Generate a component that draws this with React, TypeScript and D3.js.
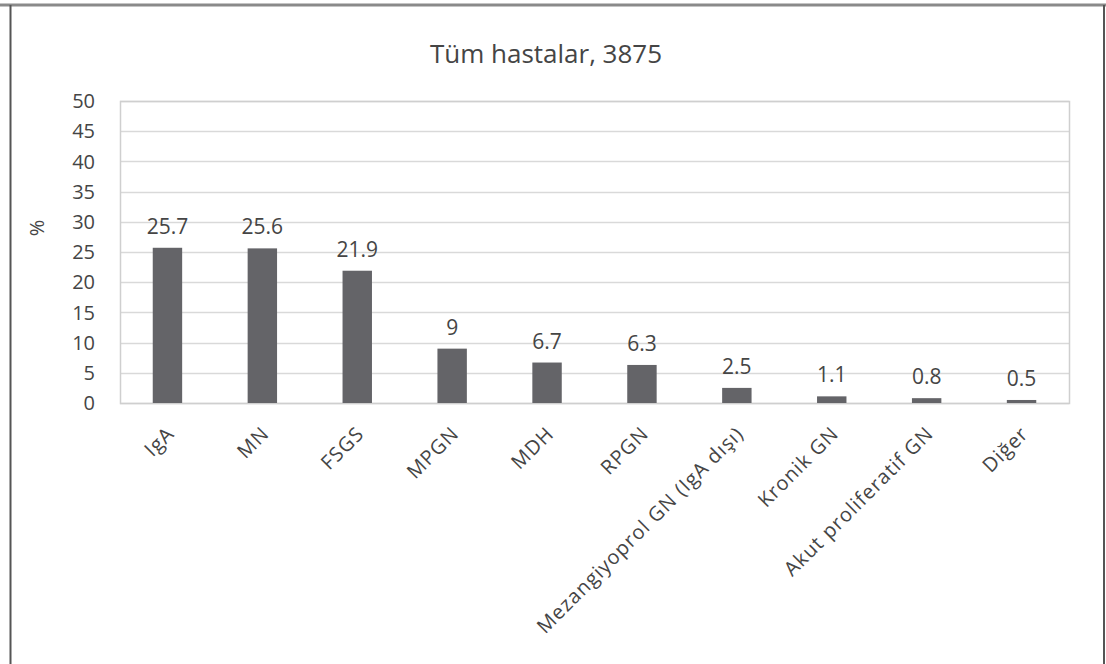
import React, { useEffect, useRef } from "react";
import * as d3 from "d3";

// Glomerular disease distribution, all patients
const categories: string[] = [
  "IgA",
  "MN",
  "FSGS",
  "MPGN",
  "MDH",
  "RPGN",
  "Mezangiyoprol GN (IgA dışı)",
  "Kronik GN",
  "Akut proliferatif GN",
  "Diğer",
];
const percentages: number[] = [25.7, 25.6, 21.9, 9, 6.7, 6.3, 2.5, 1.1, 0.8, 0.5];
const yTicks: number[] = [0, 5, 10, 15, 20, 25, 30, 35, 40, 45, 50];
const chartTitle = "Tüm hastalar, 3875";
const yAxisLabel = "%";

const W = 1106;
const H = 664;
const FONT = "'Open Sans', 'DejaVu Sans', sans-serif";
const TEXT = "#454545";

export default function App() {
  const ref = useRef<SVGSVGElement | null>(null);

  useEffect(() => {
    const svg = d3.select(ref.current);
    svg.selectAll("*").remove();

    const plot = { left: 120, right: 1069, top: 101, bottom: 403 };

    const x = d3
      .scaleBand<string>()
      .domain(categories)
      .range([plot.left, plot.right])
      .paddingInner(0.69)
      .paddingOuter(0.345);
    const y = d3.scaleLinear().domain([0, 50]).range([plot.bottom, plot.top]);

    svg.append("rect").attr("width", W).attr("height", H).attr("fill", "#fff");

    // outer frame
    svg
      .append("line")
      .attr("x1", 0)
      .attr("x2", W)
      .attr("y1", 5)
      .attr("y2", 5)
      .attr("stroke", "#8a8a8a")
      .attr("stroke-width", 3);
    svg
      .append("line")
      .attr("x1", 10.5)
      .attr("x2", 10.5)
      .attr("y1", 5)
      .attr("y2", H)
      .attr("stroke", "#555")
      .attr("stroke-width", 2);
    svg
      .append("line")
      .attr("x1", 1104)
      .attr("x2", 1104)
      .attr("y1", 5)
      .attr("y2", H)
      .attr("stroke", "#555")
      .attr("stroke-width", 2);

    // title
    svg
      .append("text")
      .attr("x", 546)
      .attr("y", 63)
      .attr("text-anchor", "middle")
      .attr("font-family", FONT)
      .attr("font-size", 26)
      .attr("fill", TEXT)
      .text(chartTitle);

    // gridlines
    svg
      .append("g")
      .selectAll("line")
      .data(yTicks)
      .join("line")
      .attr("x1", plot.left)
      .attr("x2", plot.right)
      .attr("y1", (d) => Math.round(y(d)) + 0.5)
      .attr("y2", (d) => Math.round(y(d)) + 0.5)
      .attr("stroke", "#d9d9d9")
      .attr("stroke-width", 1.5);

    // plot area border
    svg
      .append("rect")
      .attr("x", plot.left + 0.5)
      .attr("y", plot.top + 0.5)
      .attr("width", plot.right - plot.left)
      .attr("height", plot.bottom - plot.top)
      .attr("fill", "none")
      .attr("stroke", "#cfcfcf")
      .attr("stroke-width", 1.5);

    // y tick labels
    svg
      .append("g")
      .selectAll("text")
      .data(yTicks)
      .join("text")
      .attr("x", 95)
      .attr("y", (d) => y(d))
      .attr("dy", "0.36em")
      .attr("text-anchor", "end")
      .attr("font-family", FONT)
      .attr("font-size", 20)
      .attr("fill", TEXT)
      .text((d) => String(d));

    // y axis title
    svg
      .append("text")
      .attr("transform", `translate(44,228) rotate(-90)`)
      .attr("text-anchor", "middle")
      .attr("font-family", FONT)
      .attr("font-size", 20)
      .attr("fill", TEXT)
      .text(yAxisLabel);

    // bars
    svg
      .append("g")
      .selectAll("rect")
      .data(percentages)
      .join("rect")
      .attr("x", (_, i) => x(categories[i])!)
      .attr("y", (d) => y(d))
      .attr("width", x.bandwidth())
      .attr("height", (d) => y(0) - y(d))
      .attr("fill", "#646468");

    // value labels
    svg
      .append("g")
      .selectAll("text")
      .data(percentages)
      .join("text")
      .attr("x", (_, i) => x(categories[i])! + x.bandwidth() / 2)
      .attr("y", (d) => y(d) - 14)
      .attr("text-anchor", "middle")
      .attr("font-family", FONT)
      .attr("font-size", 21)
      .attr("fill", TEXT)
      .text((d) => String(d));

    // category labels, rotated
    svg
      .append("g")
      .selectAll("text")
      .data(categories)
      .join("text")
      .attr("transform", (d) => {
        const cx = x(d)! + x.bandwidth() / 2 + 8;
        return `translate(${cx},435) rotate(-45)`;
      })
      .attr("text-anchor", "end")
      .attr("font-family", FONT)
      .attr("font-size", 20)
      .attr("letter-spacing", 1)
      .attr("fill", TEXT)
      .text((d) => d);
  }, []);

  return (
    <svg
      ref={ref}
      width={W}
      height={H}
      style={{ position: "absolute", left: 0, top: 0, display: "block" }}
    />
  );
}
